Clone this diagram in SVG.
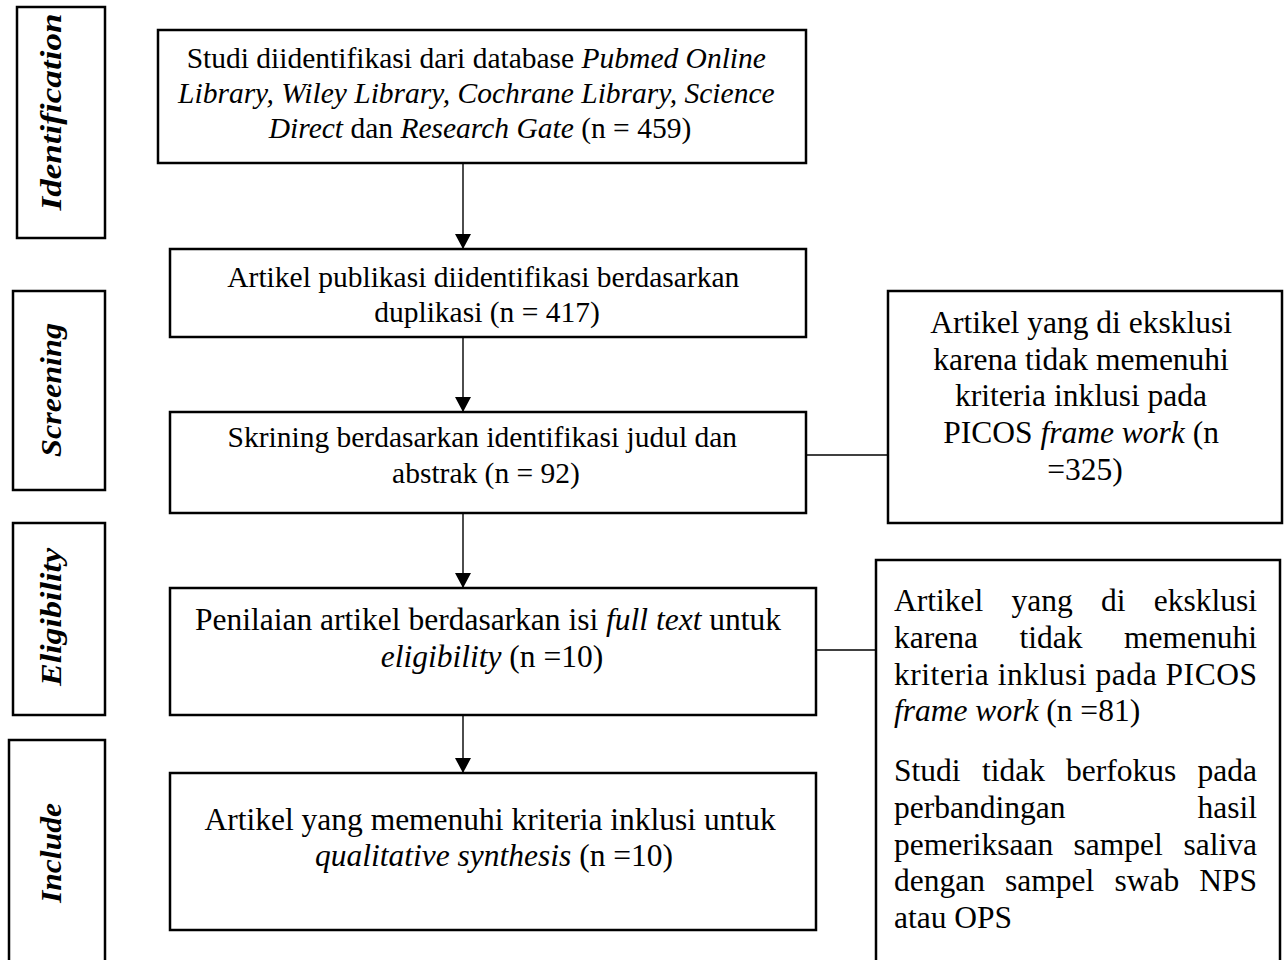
<svg xmlns="http://www.w3.org/2000/svg" width="1288" height="960" viewBox="0 0 1288 960">
<style>
.box{fill:#fff;stroke:#000;stroke-width:2.5}
.t{font-family:"Liberation Serif","Times New Roman",serif;fill:#000}
.m1{font-size:29.5px}
.m2{font-size:31.5px}
.r{font-size:31.5px}
.lab{font-family:"Liberation Serif","Times New Roman",serif;font-weight:bold;font-style:italic;font-size:30px;fill:#000}
.i{font-style:italic}
.con{stroke:#000;stroke-width:1.4;fill:none}
</style>
<defs>
<marker id="ah" markerUnits="userSpaceOnUse" markerWidth="18" markerHeight="16" refX="15" refY="8" orient="auto">
<path d="M0,0 L15,8 L0,16 Z" fill="#000"/>
</marker>
</defs>
<rect width="1288" height="960" fill="#fff"/>

<g id="label-identification">
<rect class="box" x="17" y="7" width="88" height="231"/>
<text class="lab" transform="translate(61,112) rotate(-90)" text-anchor="middle" textLength="197" lengthAdjust="spacingAndGlyphs">Identification</text>
</g>
<g id="label-screening">
<rect class="box" x="13" y="291" width="92" height="199"/>
<text class="lab" transform="translate(61,390) rotate(-90)" text-anchor="middle" textLength="134" lengthAdjust="spacingAndGlyphs">Screening</text>
</g>
<g id="label-eligibility">
<rect class="box" x="13" y="523" width="92" height="192"/>
<text class="lab" transform="translate(61,617) rotate(-90)" text-anchor="middle" textLength="138" lengthAdjust="spacingAndGlyphs">Eligibility</text>
</g>
<g id="label-include">
<rect class="box" x="9" y="740" width="96" height="240"/>
<text class="lab" transform="translate(61,853) rotate(-90)" text-anchor="middle" textLength="100" lengthAdjust="spacingAndGlyphs">Include</text>
</g>

<g id="connectors">
<line class="con" x1="463" y1="163" x2="463" y2="249" marker-end="url(#ah)"/>
<line class="con" x1="463" y1="337" x2="463" y2="412" marker-end="url(#ah)"/>
<line class="con" x1="463" y1="513" x2="463" y2="588" marker-end="url(#ah)"/>
<line class="con" x1="463" y1="715" x2="463" y2="773" marker-end="url(#ah)"/>
<line class="con" x1="806" y1="455" x2="888" y2="455"/>
<line class="con" x1="816" y1="650" x2="876" y2="650"/>
</g>

<g id="node-identified">
<rect class="box" x="158" y="30" width="648" height="133"/>
<text class="t m1" text-anchor="middle">
<tspan x="480" y="68">Studi diidentifikasi dari database <tspan class="i">Pubmed Online</tspan></tspan>
<tspan x="480" y="103" class="i">Library, Wiley Library, Cochrane Library, Science</tspan>
<tspan x="480" y="138"><tspan class="i">Direct</tspan> dan <tspan class="i">Research Gate</tspan> (n = 459)</tspan>
</text>
</g>

<g id="node-duplicates">
<rect class="box" x="170" y="249" width="636" height="88"/>
<text class="t m1" text-anchor="middle">
<tspan x="487" y="287">Artikel publikasi diidentifikasi berdasarkan</tspan>
<tspan x="487" y="322">duplikasi (n = 417)</tspan>
</text>
</g>

<g id="node-screening">
<rect class="box" x="170" y="412" width="636" height="101"/>
<text class="t m1" text-anchor="middle">
<tspan x="486" y="447">Skrining berdasarkan identifikasi judul dan</tspan>
<tspan x="486" y="483">abstrak (n = 92)</tspan>
</text>
</g>

<g id="node-eligibility">
<rect class="box" x="170" y="588" width="646" height="127"/>
<text class="t m2" text-anchor="middle">
<tspan x="492" y="630">Penilaian artikel berdasarkan isi <tspan class="i">full text</tspan> untuk</tspan>
<tspan x="492" y="667"><tspan class="i">eligibility</tspan> (n =10)</tspan>
</text>
</g>

<g id="node-include">
<rect class="box" x="170" y="773" width="646" height="157"/>
<text class="t m2" text-anchor="middle">
<tspan x="494" y="830">Artikel yang memenuhi kriteria inklusi untuk</tspan>
<tspan x="494" y="866"><tspan class="i">qualitative synthesis</tspan> (n =10)</tspan>
</text>
</g>

<g id="node-excluded-1">
<rect class="box" x="888" y="291" width="394" height="232"/>
<text class="t r" text-anchor="middle">
<tspan x="1085" y="333">Artikel yang di eksklusi</tspan>
<tspan x="1085" y="370">karena tidak memenuhi</tspan>
<tspan x="1085" y="406">kriteria inklusi pada</tspan>
<tspan x="1085" y="443">PICOS <tspan class="i">frame work</tspan> (n</tspan>
<tspan x="1085" y="480">=325)</tspan>
</text>
</g>

<g id="node-excluded-2">
<rect class="box" x="876" y="560" width="404" height="420"/>
<text class="t r"><tspan x="894" y="611">Artikel</tspan><tspan x="1011.5" y="611">yang</tspan><tspan x="1101" y="611">di</tspan></text>
<text class="t r" x="1257" y="611" text-anchor="end">eksklusi</text>
<text class="t r"><tspan x="894" y="648">karena</tspan><tspan x="1019.5" y="648">tidak</tspan></text>
<text class="t r" x="1257" y="648" text-anchor="end">memenuhi</text>
<text class="t r" x="894" y="685" textLength="363" lengthAdjust="spacing">kriteria inklusi pada PICOS</text>
<text class="t r" x="894" y="721"><tspan class="i">frame work</tspan> (n =81)</text>
<text class="t r"><tspan x="894" y="781">Studi</tspan><tspan x="982" y="781">tidak</tspan><tspan x="1066" y="781">berfokus</tspan></text>
<text class="t r" x="1257" y="781" text-anchor="end">pada</text>
<text class="t r" x="894" y="818">perbandingan</text>
<text class="t r" x="1257" y="818" text-anchor="end">hasil</text>
<text class="t r"><tspan x="894" y="855">pemeriksaan</tspan><tspan x="1073.5" y="855">sampel</tspan></text>
<text class="t r" x="1257" y="855" text-anchor="end">saliva</text>
<text class="t r"><tspan x="894" y="891">dengan</tspan><tspan x="1005" y="891">sampel</tspan><tspan x="1114.5" y="891">swab</tspan></text>
<text class="t r" x="1257" y="891" text-anchor="end">NPS</text>
<text class="t r" x="894" y="928">atau OPS</text>
</g>
</svg>
